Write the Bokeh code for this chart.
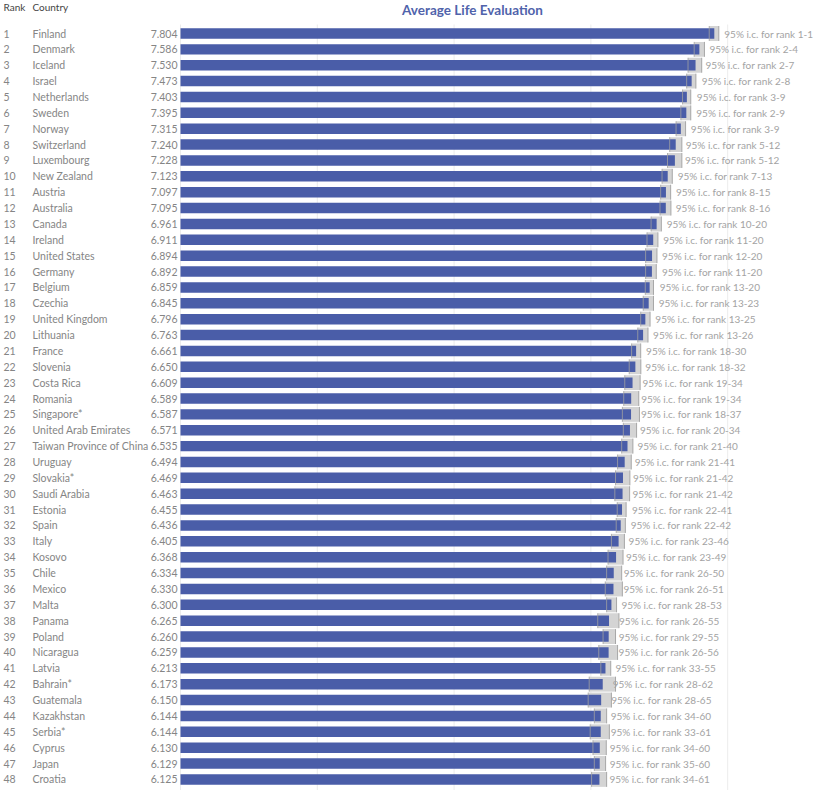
from bokeh.plotting import figure
from bokeh.models import Range1d, ColumnDataSource
from bokeh.core.properties import value
from bokeh.embed import file_html
from bokeh.resources import INLINE

countries = ["Finland", "Denmark", "Iceland", "Israel", "Netherlands", "Sweden", "Norway",
             "Switzerland", "Luxembourg", "New Zealand", "Austria", "Australia", "Canada",
             "Ireland", "United States", "Germany", "Belgium", "Czechia", "United Kingdom",
             "Lithuania", "France", "Slovenia", "Costa Rica", "Romania", "Singapore*",
             "United Arab Emirates", "Taiwan Province of China", "Uruguay", "Slovakia*",
             "Saudi Arabia", "Estonia", "Spain", "Italy", "Kosovo", "Chile", "Mexico", "Malta",
             "Panama", "Poland", "Nicaragua", "Latvia", "Bahrain*", "Guatemala", "Kazakhstan",
             "Serbia*", "Cyprus", "Japan", "Croatia"]

scores = [7.804, 7.586, 7.530, 7.473, 7.403, 7.395, 7.315, 7.240, 7.228, 7.123, 7.097, 7.095,
          6.961, 6.911, 6.894, 6.892, 6.859, 6.845, 6.796, 6.763, 6.661, 6.650, 6.609, 6.589,
          6.587, 6.571, 6.535, 6.494, 6.469, 6.463, 6.455, 6.436, 6.405, 6.368, 6.334, 6.330,
          6.300, 6.265, 6.260, 6.259, 6.213, 6.173, 6.150, 6.144, 6.144, 6.130, 6.129, 6.125]

ci_lower = [7.73, 7.51, 7.42, 7.40, 7.34, 7.315, 7.245, 7.152, 7.12, 7.04, 7.02, 7.01,
            6.88, 6.82, 6.80, 6.80, 6.795, 6.765, 6.728, 6.685, 6.595, 6.56, 6.495, 6.48,
            6.46, 6.474, 6.45, 6.39, 6.36, 6.35, 6.385, 6.37, 6.30, 6.25, 6.23, 6.21,
            6.23, 6.10, 6.178, 6.115, 6.145, 5.975, 5.96, 6.05, 5.99, 6.03, 6.05, 6.01]

ci_upper = [7.87, 7.66, 7.62, 7.535, 7.46, 7.46, 7.384, 7.33, 7.33, 7.19, 7.166, 7.17,
            7.03, 6.98, 6.966, 6.956, 6.915, 6.915, 6.865, 6.835, 6.728, 6.73, 6.72, 6.70,
            6.71, 6.668, 6.614, 6.59, 6.57, 6.566, 6.515, 6.504, 6.49, 6.47, 6.45, 6.46,
            6.375, 6.41, 6.36, 6.39, 6.29, 6.36, 6.30, 6.23, 6.27, 6.225, 6.215, 6.23]

rank_ranges = ["1-1", "2-4", "2-7", "2-8", "3-9", "2-9", "3-9", "5-12", "5-12", "7-13", "8-15",
               "8-16", "10-20", "11-20", "12-20", "11-20", "13-20", "13-23", "13-25", "13-26",
               "18-30", "18-32", "19-34", "19-34", "18-37", "20-34", "21-40", "21-41", "21-42",
               "21-42", "22-41", "22-42", "23-46", "23-49", "26-50", "26-51", "28-53", "26-55",
               "29-55", "26-56", "33-55", "28-62", "28-65", "34-60", "33-61", "34-60", "35-60",
               "34-61"]

grid_ticks = [0, 2, 4, 6, 8]

ranks = list(range(1, len(countries) + 1))

W, H = 813, 790
PX_PER_UNIT = 68.4
ZERO_PX = 180.0
ROW_TOP_PX = 33.0
ROW_PITCH = 15.87


def xd(px):
    return (px - ZERO_PX) / PX_PER_UNIT


def yd(px):
    return 1 + (px - ROW_TOP_PX) / ROW_PITCH


p = figure(width=W, height=H, x_range=Range1d(xd(0), xd(W)), y_range=Range1d(yd(H), yd(0)),
           output_backend="svg", toolbar_location=None, min_border=0)
p.axis.visible = False
p.grid.visible = False
p.outline_line_color = None
p.background_fill_color = "white"
p.border_fill_color = "white"

src = ColumnDataSource(dict(
    rank=ranks,
    rank_txt=[str(r) for r in ranks],
    country=countries,
    score=scores,
    score_txt=[f"{s:.3f}" for s in scores],
    lo=ci_lower,
    hi=ci_upper,
    box_top=[r - 0.47 for r in ranks],
    box_bot=[r + 0.47 for r in ranks],
    zero=[0] * len(ranks),
    lab_x=[s + 10 / PX_PER_UNIT for s in scores],
    lab=[f"95% i.c. for rank {rr}" for rr in rank_ranges],
))

# gridlines
p.segment(x0=grid_ticks, x1=grid_ticks, y0=[yd(24)] * len(grid_ticks),
          y1=[yd(H + 5)] * len(grid_ticks), line_color="#ececec", line_width=1)

# CI boxes
p.quad(left="lo", right="hi", top="box_top", bottom="box_bot", source=src,
       fill_color="#d4d4d4", line_color=None)

# bars
p.hbar(y="rank", left="zero", right="score", height=0.66, source=src,
       fill_color="#4a5da8", line_color=None)

# CI edges
p.segment(x0="lo", x1="lo", y0="box_top", y1="box_bot", source=src,
          line_color="#a0a0a0", line_alpha=0.8, line_width=1)
p.segment(x0="hi", x1="hi", y0="box_top", y1="box_bot", source=src,
          line_color="#a0a0a0", line_alpha=0.9, line_width=1)

FONT = value("Lato")
TXT = "#858585"

p.text(x=xd(3), y="rank", text="rank_txt", source=src, text_font=FONT,
       text_font_size="10.5px", text_color=TXT, text_baseline="middle", text_align="left")
p.text(x=xd(32), y="rank", text="country", source=src, text_font=FONT,
       text_font_size="10.5px", text_color=TXT, text_baseline="middle", text_align="left")
p.text(x=xd(177), y="rank", text="score_txt", source=src, text_font=FONT,
       text_font_size="10.5px", text_color=TXT, text_baseline="middle", text_align="right")
p.text(x="lab_x", y="rank", text="lab", source=src, text_font=FONT,
       text_font_size="10px", text_color="#a3a3a3", text_baseline="middle", text_align="left")

# headers
p.text(x=[xd(3), xd(32)], y=[yd(6), yd(6)], text=["Rank", "Country"], text_font=FONT,
       text_font_size="10px", text_color="#444444", text_baseline="middle", text_align="left")
p.text(x=[xd(472)], y=[yd(9)], text=["Average Life Evaluation"],
       text_font=FONT, text_font_size="13.5px", text_font_style="bold", text_color="#5063ab",
       text_baseline="middle", text_align="center")

open("out.html", "w").write(file_html(p, INLINE))
